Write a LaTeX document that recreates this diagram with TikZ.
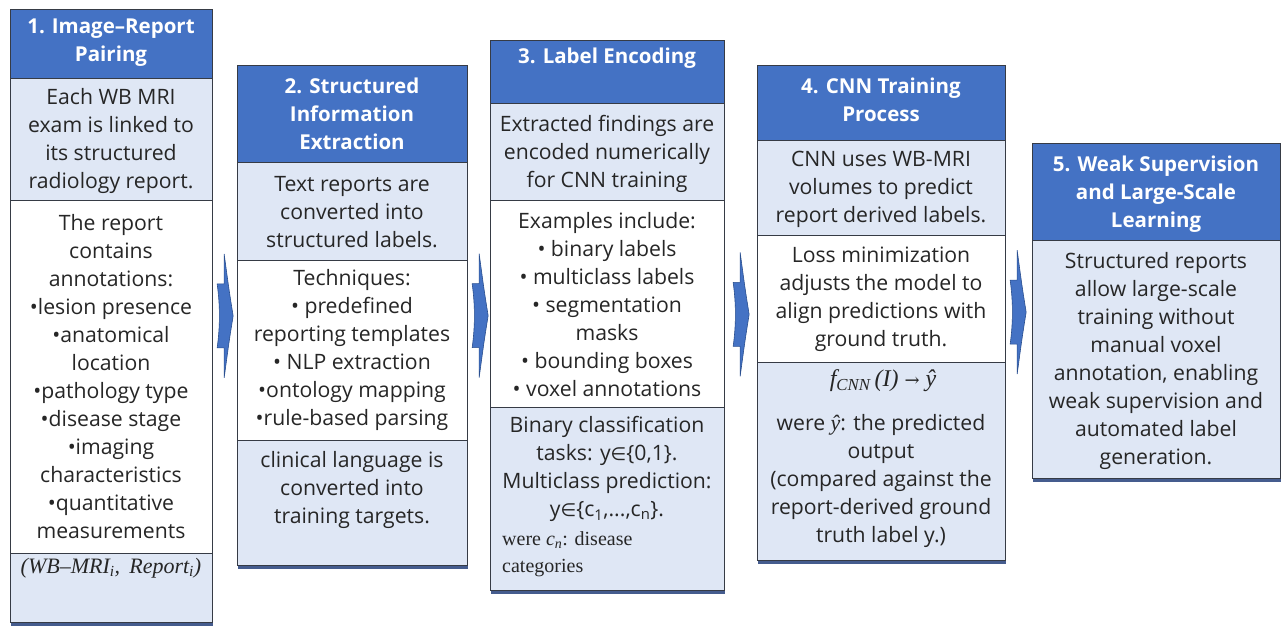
\documentclass[tikz,border=0pt]{standalone}
\usepackage{fontspec}
\setmainfont{Open Sans}
\newfontfamily\timesf{Liberation Serif}
\newfontfamily\dejas{DejaVu Sans}
\newfontfamily\dejaserif{DejaVu Serif}
\usetikzlibrary{shadows,calc}
\definecolor{hdr}{HTML}{4472C4}
\definecolor{lite}{HTML}{DFE7F5}
\definecolor{edge}{HTML}{363B45}
\definecolor{txt}{HTML}{262626}
\definecolor{shad}{HTML}{24407A}
\definecolor{arrc}{HTML}{4472C4}
\definecolor{arre}{HTML}{2A4F8F}
\newcommand{\elem}{{\dejas\fontsize{18}{28}\selectfont ∈}}
\tikzset{
  secbox/.style={draw=edge, line width=1.1pt, anchor=north west, inner sep=0pt},
  outerbox/.style={draw=edge, line width=1.3pt, fill=white, anchor=north west, inner sep=0pt,
    drop shadow={shadow xshift=0.5pt, shadow yshift=-3.5pt, fill=shad, opacity=0.85}},
  hdtext/.style={font=\fontsize{20.5}{28}\selectfont\bfseries, text=white, align=center, inner sep=0pt},
  bdtext/.style={font=\fontsize{21.2}{28}\selectfont, text=txt, align=center, inner sep=0pt},
  mtext/.style={font=\timesf\itshape\fontsize{22}{28}\selectfont, text=txt, align=center, inner sep=0pt},
  sftext/.style={font=\timesf\fontsize{20}{28}\selectfont, text=txt, align=left, inner sep=0pt, anchor=west},
  pics/chev/.style={code={
    \fill[arrc, draw=arre, line width=0.6pt] (0,-32) -- (7,-32) -- (7,-62) .. controls (12,-25) .. (16,0)
      .. controls (12,25) .. (7,62) -- (7,32) -- (0,32) .. controls (3,10) and (3,-10) .. (0,-32) -- cycle;
  }}
}
\begin{document}
\begin{tikzpicture}[x=1pt,y=-1pt]
\useasboundingbox (0,0) rectangle (1282,630);

% ---------------- Box 1 ----------------
\node[outerbox, minimum width=202pt, minimum height=613pt] (b1) at (10,9) {};
\node[secbox, fill=hdr,  minimum width=202pt, minimum height=69pt]  (b1h) at (10,9) {};
\node[secbox, fill=lite, minimum width=202pt, minimum height=122pt] (b1a) at (10,78) {};
\node[secbox, fill=white,minimum width=202pt, minimum height=353pt] (b1b) at (10,200) {};
\node[secbox, fill=lite, minimum width=202pt, minimum height=69pt]  (b1c) at (10,553) {};
\node[hdtext] (t1h) at (111,43) {1. Image–Report\\Pairing};
\node[bdtext] (t1a) at (111,141) {Each WB MRI\\exam is linked to\\its structured\\radiology report.};
\node[bdtext] (t1b) at (111,377) {The report\\contains\\annotations:\\•lesion presence\\•anatomical\\location\\•pathology type\\•disease stage\\•imaging\\characteristics\\•quantitative\\measurements};
\node[mtext] (t1c) at (111,568) {(WB–MRI\textsubscript{\itshape i}, \,Report\textsubscript{\itshape i})};

% ---------------- Box 2 ----------------
\node[outerbox, minimum width=230pt, minimum height=500pt] (b2) at (237,65) {};
\node[secbox, fill=hdr,  minimum width=230pt, minimum height=97pt]  (b2h) at (237,65) {};
\node[secbox, fill=lite, minimum width=230pt, minimum height=98pt]  (b2a) at (237,162) {};
\node[secbox, fill=white,minimum width=230pt, minimum height=180pt] (b2b) at (237,260) {};
\node[secbox, fill=lite, minimum width=230pt, minimum height=125pt] (b2c) at (237,440) {};
\node[hdtext] (t2h) at (352,114) {2. Structured\\Information\\Extraction};
\node[bdtext] (t2a) at (352,212) {Text reports are\\converted into\\structured labels.};
\node[bdtext] (t2b) at (352,350) {Techniques:\\• predefined\\reporting templates\\• NLP extraction\\•ontology mapping\\•rule-based parsing};
\node[bdtext] (t2c) at (352,490) {clinical language is\\converted into\\training targets.};

% ---------------- Box 3 ----------------
\node[outerbox, minimum width=234pt, minimum height=550pt] (b3) at (490,40) {};
\node[secbox, fill=hdr,  minimum width=234pt, minimum height=63pt]  (b3h) at (490,40) {};
\node[secbox, fill=lite, minimum width=234pt, minimum height=97pt]  (b3a) at (490,103) {};
\node[secbox, fill=white,minimum width=234pt, minimum height=207pt] (b3b) at (490,200) {};
\node[secbox, fill=lite, minimum width=234pt, minimum height=183pt] (b3c) at (490,407) {};
\node[hdtext] (t3h) at (607,58) {3. Label Encoding};
\node[bdtext] (t3a) at (607,154) {Extracted findings are\\encoded numerically\\for CNN training};
\node[bdtext] (t3b) at (607,305) {Examples include:\\• binary labels\\• multiclass labels\\• segmentation\\masks\\• bounding boxes\\• voxel annotations};
\node[bdtext] (t3c) at (607,469) {Binary classification\\tasks: y\elem\{0,1\}.\\Multiclass prediction:\\y\elem\{c\textsubscript{1},...,c\textsubscript{n}\}.};
\node[sftext] (t3d) at (502,540) {were {\itshape c\textsubscript{n}}: disease};
\node[sftext] (t3e) at (502,568) {categories};

% ---------------- Box 4 ----------------
\node[outerbox, minimum width=248pt, minimum height=495pt] (b4) at (757,65) {};
\node[secbox, fill=hdr,  minimum width=248pt, minimum height=75pt]  (b4h) at (757,65) {};
\node[secbox, fill=lite, minimum width=248pt, minimum height=95pt]  (b4a) at (757,140) {};
\node[secbox, fill=white,minimum width=248pt, minimum height=127pt] (b4b) at (757,235) {};
\node[secbox, fill=lite, minimum width=248pt, minimum height=198pt] (b4c) at (757,362) {};
\node[hdtext] (t4h) at (881,100) {4. CNN Training\\Process};
\node[bdtext] (t4a) at (881,189) {CNN uses WB-MRI\\volumes to predict\\report derived labels.};
\node[bdtext] (t4b) at (881,299) {Loss minimization\\adjusts the model to\\align predictions with\\ground truth.};
\node[mtext, font=\timesf\itshape\fontsize{24}{28}\selectfont] (t4f) at (883,381) {f\textsubscript{\itshape CNN}\,(I) {\dejaserif\upshape\fontsize{18}{28}\selectfont →} ŷ};
\node[bdtext] (t4c) at (881,481) {were {\timesf\itshape\fontsize{22}{28}\selectfont ŷ}: the predicted\\output\\(compared against the\\report-derived ground\\truth label y.)};

% ---------------- Box 5 ----------------
\node[outerbox, minimum width=248pt, minimum height=335pt] (b5) at (1032,143) {};
\node[secbox, fill=hdr,  minimum width=248pt, minimum height=97pt]  (b5h) at (1032,143) {};
\node[secbox, fill=lite, minimum width=248pt, minimum height=238pt] (b5a) at (1032,240) {};
\node[hdtext] (t5h) at (1156,194) {5. Weak Supervision\\and Large-Scale\\Learning};
\node[bdtext] (t5a) at (1156,361) {Structured reports\\allow large-scale\\training without\\manual voxel\\annotation, enabling\\weak supervision and\\automated label\\generation.};

% ---------------- Arrows ----------------
\pic (a1) at ($(b1.east)!0.5!(b2.west) + (-8,0)$ |- 0,315) {chev};
\pic (a2) at ($(b2.east)!0.5!(b3.west) + (-7,0)$ |- 0,315) {chev};
\pic (a3) at ($(b3.east)!0.5!(b4.west) + (-8,0)$ |- 0,315) {chev};
\pic (a4) at ($(b4.east)!0.5!(b5.west) + (-9,0)$ |- 0,315) {chev};
\end{tikzpicture}
\end{document}
